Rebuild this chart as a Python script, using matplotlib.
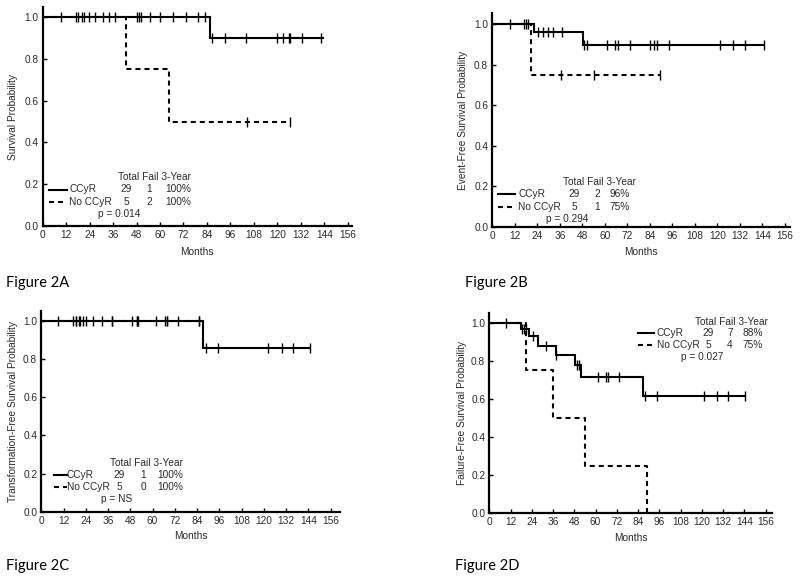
import numpy as np
import matplotlib
matplotlib.use("Agg")
import matplotlib.pyplot as plt
from matplotlib.lines import Line2D

plt.rcParams['font.family'] = ['Liberation Sans', 'DejaVu Sans']
plt.rcParams['lines.scale_dashes'] = False

# ---------------- data ----------------
x_ticks = list(range(0, 157, 12))
y_ticks = [0.0, 0.2, 0.4, 0.6, 0.8, 1.0]
x_label = "Months"

panel_names = ["Figure 2A", "Figure 2B", "Figure 2C", "Figure 2D"]
y_labels = ["Survival Probability", "Event-Free Survival Probability",
            "Transformation-Free Survival Probability", "Failure-Free Survival Probability"]
group_names = ["CCyR", "No CCyR"]
header = "Total Fail 3-Year"

# Panel A
A_ccyr_events = [85.5]
A_ccyr_levels = [0.90]
A_ccyr_censor = [9.4, 17.2, 17.9, 20.3, 20.9, 23.9, 27.0, 30.8, 33.9, 37.0, 48.1, 49.4, 50.2,
                 55.1, 60.2, 66.8, 73.1, 79.4, 82.8, 86.8, 93.3, 103.8, 120.0, 123.1, 125.8,
                 126.5, 132.6, 142.2]
A_ccyr_end = 143.2
A_no_events = [42.5, 64.8]
A_no_levels = [0.75, 0.50]
A_no_censor = [104.3, 126.5]
A_no_end = 126.5
A_total = ["29", "5"]
A_fail = ["1", "2"]
A_3yr = ["100%", "100%"]
A_p = "p = 0.014"

# Panel B
B_ccyr_events = [22.1, 48.3]
B_ccyr_levels = [0.962, 0.898]
B_ccyr_censor = [9.5, 17.1, 18.2, 19.2, 24.6, 27.2, 29.9, 32.6, 37.4, 49.0, 50.4, 61.1, 65.5,
                 67.3, 73.2, 84.2, 86.0, 87.8, 94.0, 121.6, 128.2, 134.6, 144.8]
B_ccyr_end = 144.8
B_no_events = [20.6]
B_no_levels = [0.75]
B_no_censor = [36.5, 54.3, 89.6]
B_no_end = 89.6
B_total = ["29", "5"]
B_fail = ["2", "1"]
B_3yr = ["96%", "75%"]
B_p = "p = 0.294"

# Panel C
C_ccyr_events = [87.2]
C_ccyr_levels = [0.857]
C_ccyr_censor = [9.2, 17.3, 18.7, 20.2, 20.9, 22.6, 24.1, 28.0, 32.5, 37.9, 48.7, 51.4, 52.3,
                 61.8, 66.7, 67.9, 73.9, 85.2, 88.6, 95.4, 122.4, 129.6, 135.5, 144.8]
C_ccyr_end = 144.8
C_no_events = []
C_no_levels = []
C_no_censor = [18.7, 37.9, 51.4, 67.9, 85.2]
C_no_end = 85.2
C_total = ["29", "5"]
C_fail = ["1", "0"]
C_3yr = ["100%", "100%"]
C_p = "p = NS"

# Panel D
D_ccyr_events = [17.7, 22.3, 27.7, 37.5, 48.4, 51.8, 86.6]
D_ccyr_levels = [0.964, 0.929, 0.875, 0.830, 0.778, 0.714, 0.614]
D_ccyr_censor = [9.3, 18.3, 19.8, 20.9, 24.5, 32.0, 37.5, 49.7, 50.8, 61.4, 65.6, 67.0, 73.3,
                 87.9, 94.5, 121.4, 128.4, 134.6, 144.3]
D_ccyr_end = 144.3
D_no_events = [20.7, 36.1, 54.2, 89.1]
D_no_levels = [0.75, 0.50, 0.25, 0.0]
D_no_censor = []
D_no_end = 89.1
D_total = ["29", "5"]
D_fail = ["7", "4"]
D_3yr = ["88%", "75%"]
D_p = "p = 0.027"

panels = [
    dict(ccyr=(A_ccyr_events, A_ccyr_levels, A_ccyr_censor, A_ccyr_end),
         no=(A_no_events, A_no_levels, A_no_censor, A_no_end),
         total=A_total, fail=A_fail, yr3=A_3yr, p=A_p),
    dict(ccyr=(B_ccyr_events, B_ccyr_levels, B_ccyr_censor, B_ccyr_end),
         no=(B_no_events, B_no_levels, B_no_censor, B_no_end),
         total=B_total, fail=B_fail, yr3=B_3yr, p=B_p),
    dict(ccyr=(C_ccyr_events, C_ccyr_levels, C_ccyr_censor, C_ccyr_end),
         no=(C_no_events, C_no_levels, C_no_censor, C_no_end),
         total=C_total, fail=C_fail, yr3=C_3yr, p=C_p),
    dict(ccyr=(D_ccyr_events, D_ccyr_levels, D_ccyr_censor, D_ccyr_end),
         no=(D_no_events, D_no_levels, D_no_censor, D_no_end),
         total=D_total, fail=D_fail, yr3=D_3yr, p=D_p),
]

# ---------------- layout (pixels) ----------------
W, H = 800, 580
# axes rect: left, right, top, bottom; xmax, ymax
axes_px = [(42.7, 352.0, 7.0, 226.0, 158.2, 1.049),
           (492.3, 790.0, 13.3, 226.7, 158.8, 1.053),
           (41.3, 340.0, 310.7, 512.0, 161.0, 1.052),
           (489.3, 771.7, 312.7, 513.3, 159.4, 1.052)]
ylabel_x = [12.7, 463.3, 12.7, 461.7]
xlabel_y = [251.7, 252.3, 536.0, 537.7]
fig_label_xy = [(6, 283), (465, 283), (6, 566), (455, 566)]
# legend: header right x, header y, row step
legend_px = [(191.0, 177.0, 12.5), (636.0, 181.7, 12.6), (182.7, 463.3, 11.8), (767.7, 321.7, 11.7)]
# offsets relative to header right x
leg_line = [(-142, -124), (-138, -121), (-129, -116), (-130, -114)]
leg_name = [-122, -117.7, -116, -111]
leg_tot = [-65, -62, -63.7, -59.4]
leg_fail = [-42, -39, -39.4, -37.7]
leg_yr = [0, -6, 0, -5]
leg_p = [-71.5, -69, -65.7, -66]

TXT = '#2b2b2b'
FS = 7.3
LW = 1.5
DASH = (3.6, 2.9)

fig = plt.figure(figsize=(W / 100, H / 100), dpi=100)


def ftext(x, y, s, ha='left', **kw):
    fig.text(x / W, 1 - y / H, s, ha=ha, va='center', color=TXT, fontsize=FS, **kw)


def fline(x0, x1, y, dashed):
    ln = Line2D([x0 / W, x1 / W], [1 - y / H, 1 - y / H], transform=fig.transFigure,
                color='black', lw=LW)
    if dashed:
        ln.set_dashes(DASH)
    fig.add_artist(ln)


def draw_curve(ax, events, levels, censor, end, dashed):
    times = [0.0] + list(events) + [end]
    vals = [1.0] + list(levels)
    vals = vals + [vals[-1]]
    ln, = ax.step(times, vals, where='post', color='black', lw=LW, solid_joinstyle='miter',
                  zorder=3)
    if dashed:
        ln.set_dashes(DASH)
    if len(censor):
        lv = np.array([1.0] + list(levels))
        idx = np.searchsorted(np.array(events, dtype=float), np.array(censor), side='right')
        ax.plot(censor, lv[idx], linestyle='none', marker='|', markersize=6.5,
                markeredgewidth=1.0, color='black', zorder=4)


for i, pnl in enumerate(panels):
    l, r, t, b, xmax, ymax = axes_px[i]
    ax = fig.add_axes([l / W, 1 - b / H, (r - l) / W, (b - t) / H])
    draw_curve(ax, *pnl['ccyr'], dashed=False)
    draw_curve(ax, *pnl['no'], dashed=True)
    ax.set_xlim(0, xmax)
    ax.set_ylim(0, ymax)
    ax.set_xticks(x_ticks)
    ax.set_yticks(y_ticks)
    ax.set_yticklabels([f"{v:.1f}" for v in y_ticks])
    for s in ['top', 'right']:
        ax.spines[s].set_visible(False)
    for s in ['left', 'bottom']:
        ax.spines[s].set_linewidth(1.6)
    ax.tick_params(direction='in', length=3, width=1.0, labelsize=FS, labelcolor=TXT, pad=3)
    ax.set_xlabel(x_label, fontsize=FS, color=TXT)
    ax.set_ylabel(y_labels[i], fontsize=FS, color=TXT)
    ax.yaxis.set_label_coords((ylabel_x[i] - l) / (r - l), 0.5)
    ax.xaxis.set_label_coords(0.5, -(xlabel_y[i] - b) / (b - t))
    ax.xaxis.label.set_verticalalignment('center')
    ax.yaxis.label.set_verticalalignment('center')

    # legend table
    hx, hy, step = legend_px[i]
    ftext(hx, hy, header, ha='right')
    for k in range(2):
        yy = hy + step * (k + 1)
        fline(hx + leg_line[i][0], hx + leg_line[i][1], yy, dashed=(k == 1))
        ftext(hx + leg_name[i], yy, group_names[k])
        ftext(hx + leg_tot[i], yy, pnl['total'][k], ha='center')
        ftext(hx + leg_fail[i], yy, pnl['fail'][k], ha='center')
        ftext(hx + leg_yr[i], yy, pnl['yr3'][k], ha='right')
    ftext(hx + leg_p[i], hy + step * 3, pnl['p'], ha='center')

    fx, fy = fig_label_xy[i]
    fig.text(fx / W, 1 - fy / H, panel_names[i], ha='left', va='center', color='black',
             fontsize=10.5, family=['Lato', 'DejaVu Sans'])

fig.savefig("out.png", dpi=100)
